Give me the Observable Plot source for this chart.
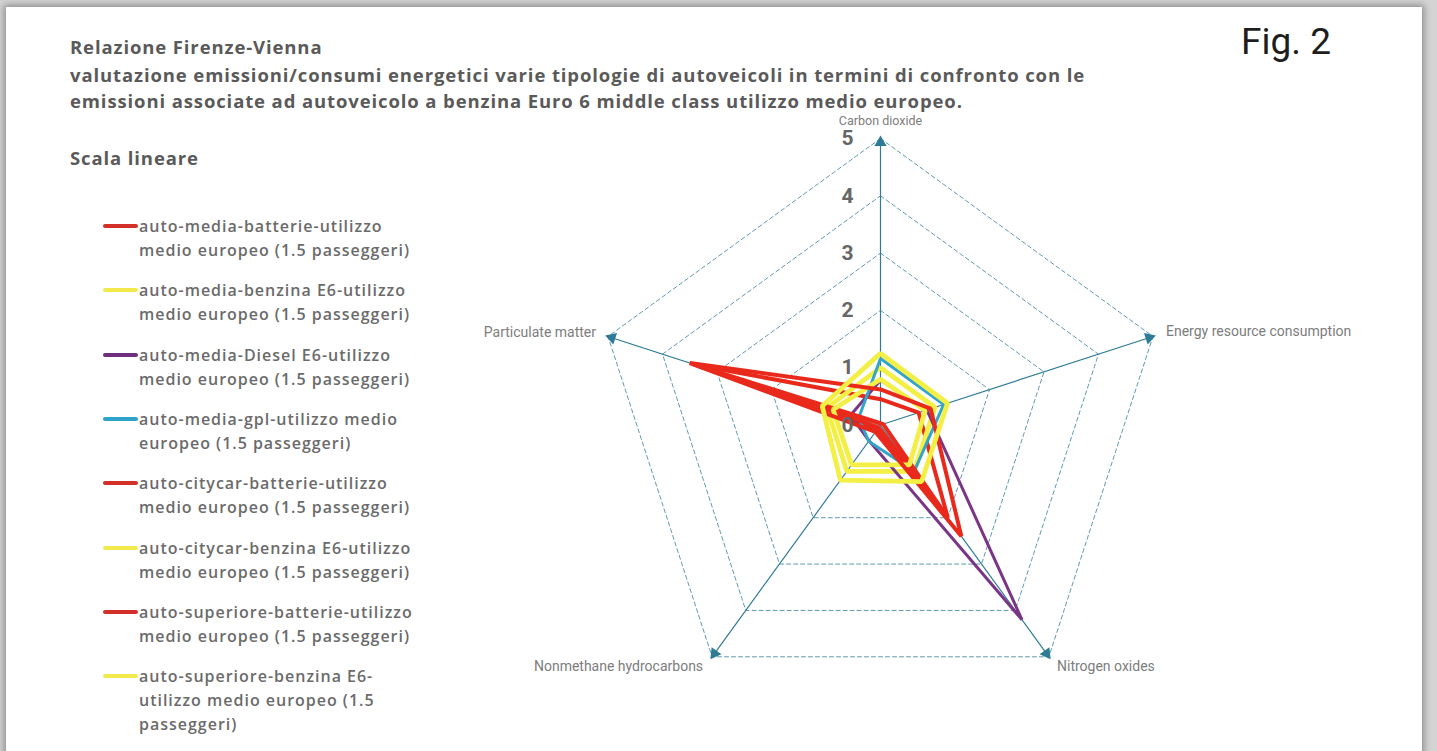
<!DOCTYPE html>
<html><head><meta charset="utf-8">
<script src="https://cdn.jsdelivr.net/npm/d3@7"></script>
<script src="https://cdn.jsdelivr.net/npm/@observablehq/plot@0.6"></script>
<style>
body{margin:0;width:1437px;height:751px;overflow:hidden;background:#d4d4d4;font-family:Roboto,sans-serif;}
#card{position:absolute;left:6px;top:7px;width:1416px;height:770px;background:#fff;box-shadow:0 0 7px 2px rgba(0,0,0,0.35);}
.tl{position:absolute;left:70px;font-family:"Open Sans",sans-serif;font-weight:700;font-size:18.5px;color:#5a5a5a;line-height:17px;white-space:nowrap;}
#fig{position:absolute;left:1241px;top:20px;font-size:37px;color:#1e1e1e;line-height:44px;font-family:"Liberation Sans Narrow",Roboto,sans-serif;}
#legend{position:absolute;left:103px;top:0;}
.item{position:absolute;left:0;width:330px;}
.sw{position:absolute;left:0;top:10px;width:35px;height:4px;border-radius:2px;}
.lab{position:absolute;left:36px;top:0;width:284px;font-family:"Open Sans",sans-serif;font-weight:600;font-size:16px;line-height:24px;color:#6b6b6b;}
#chart{position:absolute;left:470px;top:100px;}
</style></head>
<body>
<div id="card"></div>
<div class="tl" style="top:37.5px">Relazione Firenze-Vienna</div>
<div class="tl" id="tl2" style="top:65.5px">valutazione emissioni/consumi energetici varie tipologie di autoveicoli in termini di confronto con le</div>
<div class="tl" style="top:92px">emissioni associate ad autoveicolo a benzina Euro 6 middle class utilizzo medio europeo.</div>
<div class="tl" style="top:148.5px">Scala lineare</div>
<div id="fig">Fig. 2</div>
<div id="legend"></div>
<div id="chart"></div>
<script>
// ---- data ----
const axesNames = ["Carbon dioxide", "Energy resource consumption", "Nitrogen oxides", "Nonmethane hydrocarbons", "Particulate matter"];
const seriesNames = [
  "auto-media-batterie-utilizzo medio europeo (1.5 passeggeri)",
  "auto-media-benzina E6-utilizzo medio europeo (1.5 passeggeri)",
  "auto-media-Diesel E6-utilizzo medio europeo (1.5 passeggeri)",
  "auto-media-gpl-utilizzo medio europeo (1.5 passeggeri)",
  "auto-citycar-batterie-utilizzo medio europeo (1.5 passeggeri)",
  "auto-citycar-benzina E6-utilizzo medio europeo (1.5 passeggeri)",
  "auto-superiore-batterie-utilizzo medio europeo (1.5 passeggeri)",
  "auto-superiore-benzina E6-utilizzo medio europeo (1.5 passeggeri)"
];
const carbonDioxide = [0.45, 1.00, 0.78, 1.16, 0.03, 0.80, 0.62, 1.25];
const energyResource = [0.70, 1.00, 0.85, 1.16, 0.05, 0.82, 0.92, 1.23];
const nitrogenOxides = [2.00, 1.00, 4.20, 1.00, 2.00, 0.86, 2.40, 1.22];
const nonmethaneHC = [0.10, 1.00, 0.34, 0.35, 0.05, 0.86, 0.15, 1.19];
const particulate = [3.42, 0.98, 0.55, 0.40, 3.36, 0.87, 3.50, 1.07];
const tickValues = [0, 1, 2, 3, 4, 5];

// ---- styles ----
const fuelColor = {batterie: "#e8291c", benzina: "#f4ef45", Diesel: "#7a3585", gpl: "#33a5c8"};
const legendColor = {batterie: "#d3302a", benzina: "#f2ea4c", Diesel: "#6e2f7e", gpl: "#2ea3c9"};
const fuelWidth = {batterie: 4, benzina: 4.8, Diesel: 3, gpl: 3};
const fuelOf = n => ["batterie", "benzina", "Diesel", "gpl"].find(f => n.includes(f));

// ---- text fitting (letter-spacing to match reference widths) ----
const ctx = document.createElement("canvas").getContext("2d");
function spacingFor(text, font, target) {
  ctx.font = font;
  return (target - ctx.measureText(text).width) / text.length;
}
const t2 = document.getElementById("tl2").textContent;
const tls = spacingFor(t2, '700 18.5px "Open Sans"', 1015);
document.querySelectorAll(".tl").forEach(el => el.style.letterSpacing = tls + "px");
const lls = spacingFor("medio europeo (1.5 passeggeri)", '600 16px "Open Sans"', 271);

// ---- build ----
const columns = [carbonDioxide, energyResource, nitrogenOxides, nonmethaneHC, particulate];
const ang = k => k * 2 * Math.PI / axesNames.length;
const px = (v, k) => v * Math.sin(ang(k));
const py = (v, k) => v * Math.cos(ang(k));
const maxV = d3.max(tickValues);

const seriesPts = seriesNames.map((s, i) => axesNames.map((a, k) => ({series: s, axis: a, k, value: columns[k][i]})));
const gridPts = tickValues.filter(t => t > 0).flatMap(t => axesNames.map((a, k) => ({level: t, k})));
const axesData = axesNames.map((a, k) => ({name: a, k}));

const U = 57.3, W = 930, H = 600, cx = 410, cy = 324.5;
const gridColor = "#4f8ea6", axisColor = "#2d7b96", labColor = "#7d7d7d", labSize = 14;

const marks = [
  Plot.line(gridPts, {x: d => px(d.level, d.k), y: d => py(d.level, d.k), z: "level", curve: "linear-closed", stroke: gridColor, strokeWidth: 1, strokeDasharray: "4,3", strokeOpacity: 0.9}),
  Plot.link(axesData, {x1: 0, y1: 0, x2: d => px(maxV, d.k), y2: d => py(maxV, d.k), stroke: axisColor, strokeWidth: 1.2}),
  Plot.dot(axesData, {x: d => px(maxV - 0.07, d.k), y: d => py(maxV - 0.07, d.k), symbol: "triangle", r: 4.5, fill: axisColor, stroke: "none", rotate: d => ang(d.k) * 180 / Math.PI}),
  ...seriesPts.map((pts, i) => {
    const f = fuelOf(seriesNames[i]);
    return Plot.line(pts, {x: d => px(d.value, d.k), y: d => py(d.value, d.k), curve: "linear-closed", stroke: fuelColor[f], strokeWidth: fuelWidth[f], strokeLinejoin: "miter"});
  }),
  Plot.text(tickValues, {x: 0, y: d => d, text: d => String(d), dx: -33, fill: "#666666", fontSize: 21, fontWeight: "bold"}),
  Plot.text(axesData.filter(d => d.k === 0), {x: d => px(maxV, d.k), y: d => py(maxV, d.k), text: "name", dy: -18, fill: labColor, fontSize: 12.5}),
  Plot.text(axesData.filter(d => d.k === 1), {x: d => px(maxV, d.k), y: d => py(maxV, d.k), text: "name", dx: 13, dy: -5, textAnchor: "start", fill: labColor, fontSize: labSize}),
  Plot.text(axesData.filter(d => d.k === 2), {x: d => px(maxV, d.k), y: d => py(maxV, d.k), text: "name", dx: 57, dy: 10, fill: labColor, fontSize: labSize}),
  Plot.text(axesData.filter(d => d.k === 3), {x: d => px(maxV, d.k), y: d => py(maxV, d.k), text: "name", dx: -9, dy: 10, textAnchor: "end", fill: labColor, fontSize: labSize}),
  Plot.text(axesData.filter(d => d.k === 4), {x: d => px(maxV, d.k), y: d => py(maxV, d.k), text: "name", dx: -12, dy: -4, textAnchor: "end", fill: labColor, fontSize: labSize})
];

const chart = Plot.plot({
  width: W, height: H, margin: 0,
  style: {fontFamily: "Roboto, sans-serif", overflow: "visible", background: "transparent"},
  x: {domain: [-cx / U, (W - cx) / U], axis: null},
  y: {domain: [-(H - cy) / U, cy / U], axis: null},
  marks
});
document.getElementById("chart").appendChild(chart);

// legend
const leg = document.getElementById("legend");
seriesNames.forEach((n, i) => {
  const f = fuelOf(n);
  const it = document.createElement("div");
  it.className = "item";
  it.style.top = (214 + i * 64.3) + "px";
  it.innerHTML = `<div class="sw" style="background:${legendColor[f]}"></div><div class="lab"></div>`;
  const lab = it.querySelector(".lab");
  lab.textContent = n;
  lab.style.letterSpacing = lls + "px";
  leg.appendChild(it);
});
</script>
</body></html>
